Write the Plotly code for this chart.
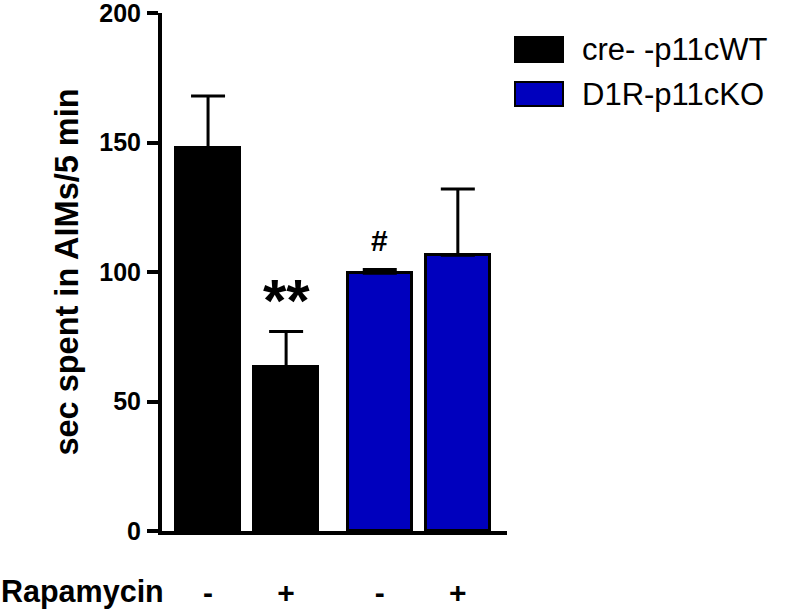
import plotly.graph_objects as go

# data
groups = ["cre- -p11cWT", "D1R-p11cKO"]
group_colors = ["#000000", "#0000BE"]
rapamycin = ["-", "+", "-", "+"]
positions = [0, 1, 2.2, 3.2]
bar_group = [0, 0, 1, 1]
means = [148, 63.5, 99.5, 106.5]
sem = [20, 13.5, 1.5, 25.5]
marks = ["", "**", "#", ""]
mark_y = [0, 89, 112, 0]

W, H = 796, 611
L, R, T, B = 162, 289, 13, 80
FONT = "Liberation Sans, Arial, sans-serif"


def px2paper(px, py):
    # pixel position in the page -> paper coords
    xp = (px - L) / (W - L - R)
    yp = (H - B - py) / (H - T - B)
    return xp, yp


fig = go.Figure()
for g, name in enumerate(groups):
    idx = [i for i in range(len(means)) if bar_group[i] == g]
    fig.add_trace(go.Bar(
        x=[positions[i] for i in idx],
        y=[means[i] for i in idx],
        width=0.82,
        name=name,
        marker=dict(color=group_colors[g], line=dict(color="black", width=3)),
        error_y=dict(type="data", symmetric=False,
                     array=[sem[i] for i in idx],
                     arrayminus=[0 for i in idx],
                     color="black", thickness=3, width=17),
        showlegend=False,
    ))

annotations = []
for i, m in enumerate(marks):
    if m:
        annotations.append(dict(
            x=positions[i], y=mark_y[i], text=m, showarrow=False,
            xanchor="center", yanchor="middle",
            font=dict(family=FONT, size=60 if m == "**" else 30,
                      color="black", weight="bold"),
        ))

# legend drawn by hand so the swatches match the original size
shapes = []
rows_y = [(37, 62), (82, 106)]
for g, name in enumerate(groups):
    x0, y0 = px2paper(515, rows_y[g][0])
    x1, y1 = px2paper(563, rows_y[g][1])
    shapes.append(dict(type="rect", xref="paper", yref="paper",
                       x0=x0, x1=x1, y0=y0, y1=y1,
                       fillcolor=group_colors[g],
                       line=dict(color="black", width=2)))
    tx, ty = px2paper(580, (rows_y[g][0] + rows_y[g][1]) / 2)
    annotations.append(dict(xref="paper", yref="paper", x=tx, y=ty,
                            text=name, showarrow=False,
                            xanchor="left", yanchor="middle",
                            font=dict(family=FONT, size=31, color="black")))

rx, ry = px2paper(166, 591)
annotations.append(dict(xref="paper", yref="paper", x=rx, y=ry,
                        text="Rapamycin", showarrow=False,
                        xanchor="right", yanchor="middle",
                        font=dict(family=FONT, size=30.5, color="black",
                                  weight="bold")))

fig.update_layout(
    width=W, height=H,
    margin=dict(l=L, r=R, t=T, b=B, pad=0),
    plot_bgcolor="white", paper_bgcolor="white",
    bargap=0,
    annotations=annotations,
    shapes=shapes,
    showlegend=False,
)
fig.update_xaxes(
    range=[-0.59, 3.83], automargin=False,
    showline=True, linecolor="black", linewidth=4,
    showgrid=False, zeroline=False,
    tickmode="array", tickvals=positions, ticktext=rapamycin,
    ticks="", ticklabelstandoff=32,
    tickfont=dict(family=FONT, size=30, color="black", weight="bold"),
)
fig.update_yaxes(
    range=[0, 200], automargin=False,
    tickmode="array", tickvals=[0, 50, 100, 150, 200],
    ticklabeloverflow="allow", ticklabelstandoff=1,
    showline=True, linecolor="black", linewidth=4,
    showgrid=False, zeroline=False,
    ticks="outside", ticklen=11, tickwidth=4, tickcolor="black",
    tickfont=dict(family=FONT, size=25, color="black", weight="bold"),
    title=dict(text="sec spent in AIMs/5 min", standoff=12,
               font=dict(family=FONT, size=32.5, color="black", weight="bold")),
)

# the page body has a default 8px margin; drop it so the figure sits at 0,0
fig.write_html("out.html", config={"displayModeBar": False},
               post_script="document.body.style.margin='0';")
